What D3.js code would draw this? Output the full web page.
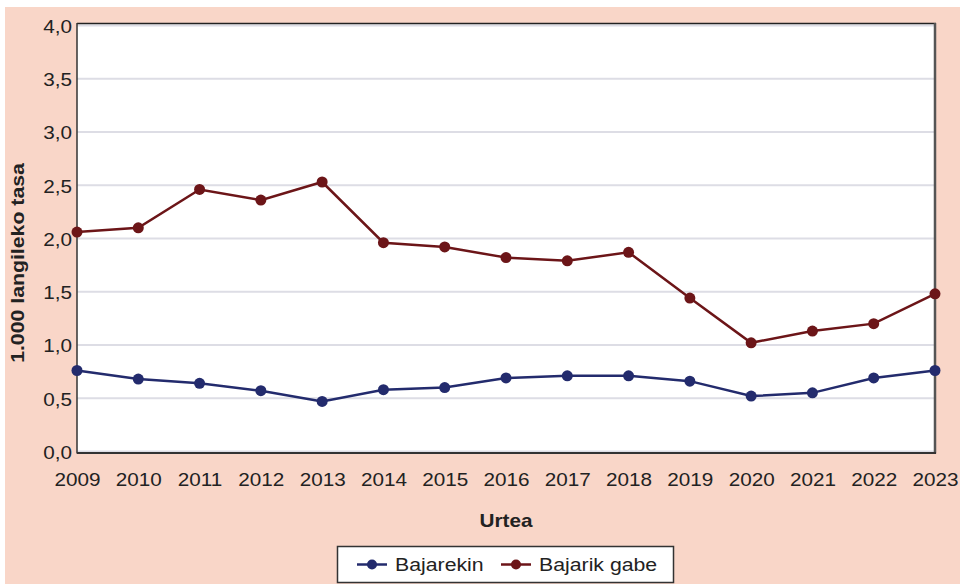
<!DOCTYPE html>
<html>
<head>
<meta charset="utf-8">
<script src="https://cdn.jsdelivr.net/npm/d3@7"></script>
<style>
  body { margin: 0; background: #fff; }
  text { font-family: "Liberation Sans", Arial, sans-serif; fill: #222; }
</style>
</head>
<body>
<div id="wrapper"></div>
<script>
// Data
const years = [2009, 2010, 2011, 2012, 2013, 2014, 2015, 2016, 2017, 2018, 2019, 2020, 2021, 2022, 2023]
const withLeave = [0.77, 0.69, 0.65, 0.58, 0.48, 0.59, 0.61, 0.70, 0.72, 0.72, 0.67, 0.53, 0.56, 0.70, 0.77]
const withoutLeave = [2.07, 2.11, 2.47, 2.37, 2.54, 1.97, 1.93, 1.83, 1.80, 1.88, 1.45, 1.03, 1.14, 1.21, 1.49]
const yTicks = [0, 0.5, 1, 1.5, 2, 2.5, 3, 3.5, 4]
const seriesNames = ["Bajarekin", "Bajarik gabe"]
const seriesColors = ["#232b6d", "#6c1518"]

const width = 960
const height = 584
const plot = { left: 77, right: 935, top: 26.5, bottom: 452.5 }
const stretch = 1.15 // the reference type is a little wide

const svg = d3.select("#wrapper").append("svg")
  .attr("width", width)
  .attr("height", height)

// peach background
svg.append("rect")
  .attr("x", 5).attr("y", 7)
  .attr("width", width - 5).attr("height", height - 7)
  .attr("fill", "#f9d6c8")

// plot frame
svg.append("rect")
  .attr("x", plot.left).attr("y", 23)
  .attr("width", plot.right - plot.left).attr("height", plot.bottom - 23)
  .attr("fill", "#fff")

const x = d3.scaleLinear()
  .domain([years[0], years[years.length - 1]])
  .range([plot.left, plot.right])

const y = d3.scaleLinear()
  .domain([0, 4])
  .range([plot.bottom, plot.top])

// gridlines
svg.append("g")
  .selectAll("line")
  .data(yTicks)
  .join("line")
    .attr("x1", plot.left).attr("x2", plot.right)
    .attr("y1", d => y(d) - 1).attr("y2", d => y(d) - 1)
    .attr("stroke", "#dddde5")
    .attr("stroke-width", 2)

// frame borders
const border = svg.append("g").attr("fill", "none")
border.append("line")
  .attr("x1", plot.left).attr("x2", plot.right + 1)
  .attr("y1", 23.5).attr("y2", 23.5)
  .attr("stroke", "#222").attr("stroke-width", 1.5)
border.append("line")
  .attr("x1", plot.left).attr("x2", plot.left)
  .attr("y1", 23).attr("y2", plot.bottom + 1)
  .attr("stroke", "#333").attr("stroke-width", 1.5)
border.append("line")
  .attr("x1", plot.right).attr("x2", plot.right)
  .attr("y1", 23).attr("y2", plot.bottom + 1)
  .attr("stroke", "#555").attr("stroke-width", 2.5)
border.append("line")
  .attr("x1", plot.left).attr("x2", plot.right + 1)
  .attr("y1", plot.bottom + 0.5).attr("y2", plot.bottom + 0.5)
  .attr("stroke", "#333").attr("stroke-width", 2)

// y axis
const yAxis = d3.axisLeft(y)
  .tickValues(yTicks)
  .tickSize(0)
  .tickPadding(5 / stretch)
  .tickFormat(d => d3.format(".1f")(d).replace(".", ","))

svg.append("g")
  .attr("transform", `translate(${plot.left},0)`)
  .call(yAxis)
  .call(g => g.select(".domain").remove())
  .call(g => g.selectAll("text")
    .attr("font-size", 18)
    .attr("fill", "#222")
    .attr("transform", `scale(${stretch},1)`)
    .attr("font-family", "Liberation Sans, Arial, sans-serif"))

// x axis
const xAxis = d3.axisBottom(x)
  .tickValues(years)
  .tickSize(0)
  .tickPadding(21)
  .tickFormat(d3.format("d"))

svg.append("g")
  .attr("transform", `translate(0,${plot.bottom})`)
  .call(xAxis)
  .call(g => g.select(".domain").remove())
  .call(g => g.selectAll("text")
    .attr("font-size", 18)
    .attr("fill", "#222")
    .attr("transform", `scale(${stretch},1)`)
    .attr("font-family", "Liberation Sans, Arial, sans-serif"))

// axis titles
svg.append("text")
  .attr("transform", `translate(506,527) scale(${stretch},1)`)
  .attr("text-anchor", "middle")
  .attr("font-size", 18)
  .attr("font-weight", "bold")
  .text("Urtea")

svg.append("text")
  .attr("transform", `translate(24,263) rotate(-90) scale(${stretch},1)`)
  .attr("text-anchor", "middle")
  .attr("font-size", 18.5)
  .attr("font-weight", "bold")
  .text("1.000 langileko tasa")

// lines and markers
const lineGen = d3.line()
  .x((d, i) => x(years[i]))
  .y(d => y(d))

const allSeries = [withLeave, withoutLeave]

allSeries.forEach((values, s) => {
  const g = svg.append("g")
  g.append("path")
    .datum(values)
    .attr("d", lineGen)
    .attr("fill", "none")
    .attr("stroke", seriesColors[s])
    .attr("stroke-width", 2.5)
  g.selectAll("circle")
    .data(values)
    .join("circle")
      .attr("cx", (d, i) => x(years[i]))
      .attr("cy", d => y(d))
      .attr("r", 5.5)
      .attr("fill", seriesColors[s])
})

// legend
const legend = svg.append("g")
legend.append("rect")
  .attr("x", 337.5).attr("y", 546.5)
  .attr("width", 336).attr("height", 36)
  .attr("fill", "#fff")
  .attr("stroke", "#333")
  .attr("stroke-width", 1.5)

const legendX = [357, 501]
seriesNames.forEach((name, s) => {
  const lx = legendX[s]
  legend.append("line")
    .attr("x1", lx).attr("x2", lx + 30)
    .attr("y1", 564.5).attr("y2", 564.5)
    .attr("stroke", seriesColors[s])
    .attr("stroke-width", 2.5)
  legend.append("circle")
    .attr("cx", lx + 15).attr("cy", 564.5)
    .attr("r", 5)
    .attr("fill", seriesColors[s])
  legend.append("text")
    .attr("transform", `translate(${lx + 38},571) scale(${stretch},1)`)
    .attr("font-size", 18.5)
    .text(name)
})
</script>
</body>
</html>
